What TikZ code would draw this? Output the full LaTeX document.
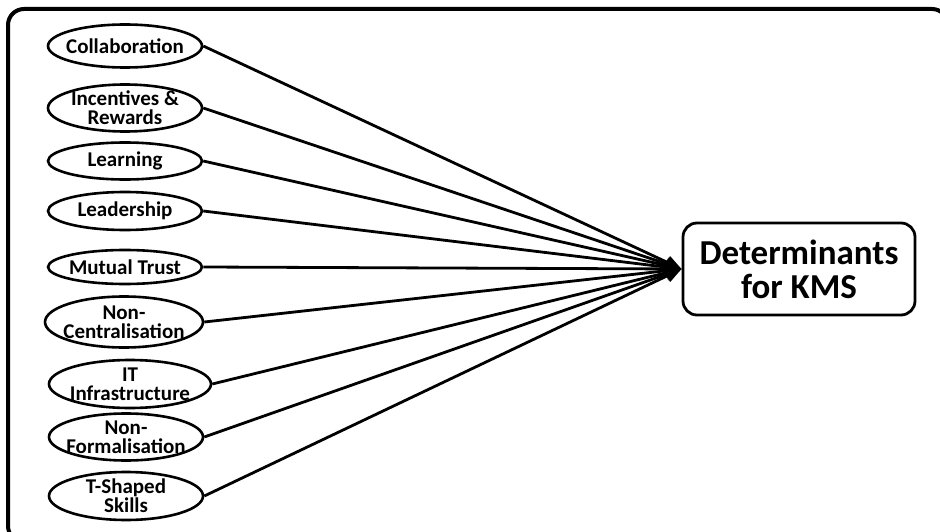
\documentclass[tikz,border=0pt]{standalone}
\usepackage{fontspec}
\setmainfont{Carlito}
\usetikzlibrary{arrows.meta,shapes.geometric}

\begin{document}
\begin{tikzpicture}[
  x=1pt, y=-1pt,
  line cap=butt, line join=miter,
  dbub/.style={draw, ellipse, line width=2.6pt, inner sep=0pt, minimum width=154pt},
  dtxt/.style={font=\bfseries\fontsize{21pt}{19pt}\selectfont, align=center, inner sep=0pt},
  dlink/.style={line width=2.8pt, -{Triangle[length=16pt,width=13pt]}},
  every label/.style={dtxt}
]
  \useasboundingbox (0,0) rectangle (940,532);
  % ---- outer frame (runs off the right and bottom edge) ----
  \draw[line width=4pt, rounded corners=16pt] (8,9) rectangle (948,542);
  % ---- target ----
  \node[draw, line width=2.8pt, rounded corners=14pt, minimum width=232pt, minimum height=92pt,
        align=center, font=\bfseries\fontsize{35pt}{34pt}\selectfont] (kms) at (799,269)
        {Determinants\\for KMS};
  % ---- determinants ----
  \node[dbub, minimum height=43pt, label=center:Collaboration] (collab) at (125,46) {};
  \node[dbub, minimum height=47pt, label={center:Incentives \&\\Rewards}] (incent) at (125,108) {};
  \node[dbub, minimum height=37pt, label=center:Learning] (learn) at (125,161) {};
  \node[dbub, minimum height=38pt, label=center:Leadership] (lead) at (125,211) {};
  \node[dbub, minimum height=34pt, label=center:Mutual Trust] (trust) at (125,267) {};
  \node[dbub, minimum width=158pt, minimum height=51pt, label={center:Non-\\Centralisation}] (noncen) at (124,322) {};
  \node[dbub, minimum width=162pt, minimum height=48pt, label={center:IT\\Infrastructure}] (infra) at (130,384) {};
  \node[dbub, minimum height=47pt, label={center:Non-\\Formalisation}] (nonform) at (126,437) {};
  \node[dbub, minimum height=48pt, label={center:T-Shaped\\Skills}] (tshape) at (126,496) {};
  % ---- links ----
  \foreach \src in {collab,incent,learn,lead,trust,noncen,infra,nonform,tshape}
    \draw[dlink] (\src.east) -- (kms.west);
\end{tikzpicture}
\end{document}
